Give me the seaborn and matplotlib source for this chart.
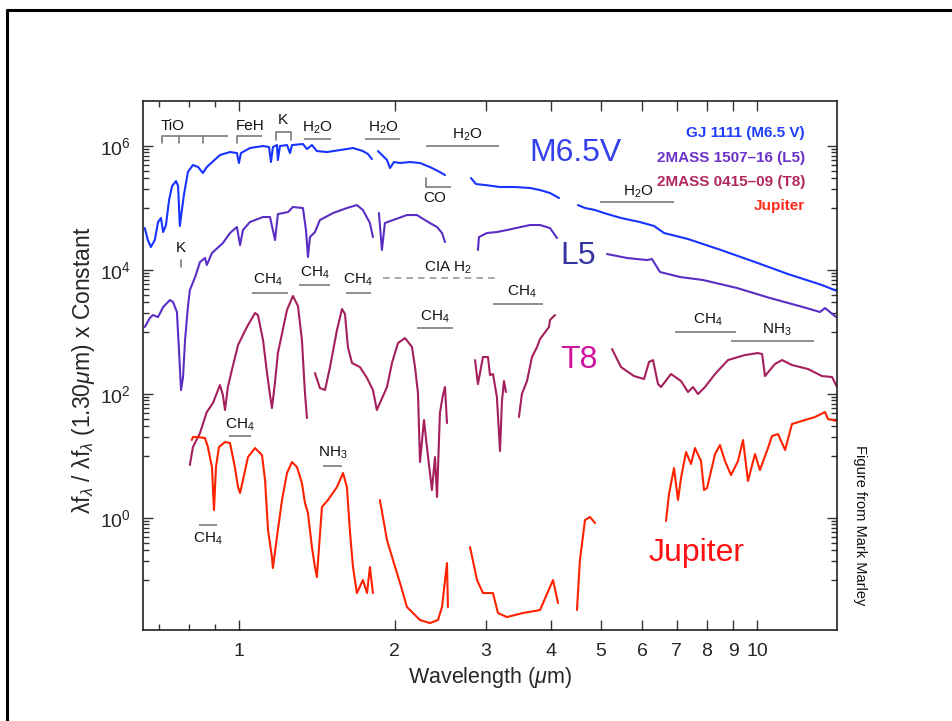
import numpy as np
import pandas as pd
import matplotlib
matplotlib.use("Agg")
import matplotlib.pyplot as plt
import seaborn as sns
from matplotlib.ticker import FixedLocator, NullFormatter, FuncFormatter
from matplotlib.lines import Line2D

nan = np.nan

# ---------------- data (wavelength in micron, log10 of normalised flux) ----------------
series_names = ["GJ 1111 (M6.5 V)", "2MASS 1507\u201316 (L5)", "2MASS 0415\u201309 (T8)", "Jupiter"]

wl_m65 = [0.658, 0.667, 0.676, 0.688, 0.698, 0.707, 0.714, 0.723, 0.733, 0.743,
          0.756, 0.763, 0.769, 0.776, 0.783, 0.797, 0.815, 0.834, 0.852, 0.867,
          0.919, 0.961, 0.991, 1.000, 1.009, 1.050, 1.113, 1.143, 1.153, 1.163,
          1.184, 1.189, 1.200, 1.238, 1.255, 1.266, 1.329, 1.353, 1.383, 1.414,
          1.479, 1.567, 1.660, 1.735, 1.774, 1.806, nan,
          1.855, 1.897, 1.931, 1.957, 1.992, 2.046, 2.139, 2.236, 2.337, 2.422, 2.499, nan,
          2.805, 2.868, 2.985, 3.191, 3.411, 3.647, 3.812, 3.985, 4.148, nan,
          4.512, 4.656, 4.868, 5.066, 5.464, 5.943, 6.328, 6.616, 7.359, 8.519,
          9.911, 11.48, 13.35, 14.27]
lf_m65 = [4.677, 4.484, 4.371, 4.484, 4.774, 4.839, 4.613, 4.726, 5.129, 5.355,
          5.435, 5.355, 4.710, 4.968, 5.210, 5.581, 5.694, 5.661, 5.565, 5.661,
          5.855, 5.903, 5.887, 5.726, 5.887, 5.968, 6.000, 5.984, 5.742, 5.984,
          6.016, 5.774, 6.000, 6.016, 5.887, 6.016, 6.032, 5.952, 6.016, 5.919,
          5.903, 5.935, 5.968, 5.919, 5.871, 5.790, nan,
          5.919, 5.839, 5.774, 5.645, 5.742, 5.726, 5.742, 5.726, 5.661, 5.597, 5.532, nan,
          5.484, 5.387, 5.371, 5.339, 5.339, 5.323, 5.290, 5.242, 5.161, nan,
          5.048, 5.000, 4.968, 4.919, 4.839, 4.774, 4.710, 4.597, 4.500, 4.323,
          4.129, 3.935, 3.758, 3.661]

wl_l5 = [0.658, 0.673, 0.682, 0.698, 0.714, 0.736, 0.746, 0.759, 0.766, 0.773,
         0.780, 0.787, 0.797, 0.804, 0.823, 0.841, 0.860, 0.867, 0.887, 0.931,
         0.961, 0.991, 1.005, 1.018, 1.050, 1.113, 1.148, 1.174, 1.189, 1.244,
         1.271, 1.329, 1.347, 1.359, 1.371, 1.402, 1.433, 1.519, 1.616, 1.689,
         1.735, 1.790, 1.814, nan,
         1.863, 1.888, 1.913, 1.983, 2.110, 2.206, 2.286, 2.337, 2.412, 2.466, 2.499, nan,
         2.893, 2.906, 3.010, 3.147, 3.290, 3.647, 3.812, 3.985, 4.111, nan,
         5.134, 5.611, 6.132, 6.270, 6.498, 7.103, 7.867, 9.150, 10.60, 12.27,
         13.23, 13.53, 14.21]
lf_l5 = [3.081, 3.226, 3.274, 3.242, 3.403, 3.516, 3.484, 3.323, 2.710, 2.065,
         2.274, 2.871, 3.403, 3.677, 3.887, 4.129, 4.194, 4.081, 4.274, 4.435,
         4.597, 4.694, 4.403, 4.645, 4.774, 4.855, 4.855, 4.484, 4.903, 4.935,
         5.016, 5.000, 4.645, 4.210, 4.532, 4.613, 4.806, 4.919, 5.000, 5.048,
         4.968, 4.758, 4.532, nan,
         4.919, 4.323, 4.758, 4.806, 4.887, 4.887, 4.806, 4.758, 4.694, 4.597, 4.452, nan,
         4.323, 4.532, 4.597, 4.613, 4.645, 4.726, 4.726, 4.677, 4.516, nan,
         4.258, 4.194, 4.161, 4.177, 3.968, 3.887, 3.839, 3.710, 3.548, 3.403,
         3.323, 3.387, 3.242]

wl_t8 = [0.804, 0.815, 0.841, 0.867, 0.891, 0.919, 0.931, 0.940, 0.952, 0.969,
         0.996, 1.036, 1.074, 1.088, 1.113, 1.133, 1.148, 1.158, 1.174, 1.189,
         1.238, 1.271, 1.300, 1.323, 1.341, 1.353, nan,
         1.402, 1.433, 1.466, 1.499, 1.546, 1.581, 1.602, 1.623, 1.653, 1.712,
         1.767, 1.814, 1.846, 1.871, 1.931, 1.974, 2.028, 2.092, 2.158, 2.187,
         2.216, 2.236, 2.276, 2.306, 2.358, 2.390, 2.412, 2.443, 2.476, 2.499,
         2.521, nan,
         2.856, 2.893, 2.958, 3.025, 3.052, 3.093, 3.147, 3.191, 3.219, 3.248, 3.276, nan,
         3.471, 3.517, 3.598, 3.678, 3.762, 3.812, 3.967, 3.985, 4.074, nan,
         5.250, 5.464, 5.788, 6.053, 6.188, 6.299, 6.441, 6.528, 6.823, 7.134,
         7.359, 7.523, 7.693, 7.936, 8.299, 8.790, 9.480, 10.04, 10.23, 10.36,
         10.83, 11.18, 11.68, 12.55, 13.35, 13.96, 14.27]
lf_t8 = [0.855, 1.145, 1.371, 1.710, 1.855, 2.145, 1.984, 1.742, 2.113, 2.387,
         2.790, 3.081, 3.306, 3.274, 2.871, 2.339, 1.984, 1.774, 2.194, 2.661,
         3.355, 3.581, 3.419, 2.871, 2.016, 1.613, nan,
         2.339, 2.097, 2.065, 2.435, 3.032, 3.371, 3.290, 2.758, 2.500, 2.435,
         2.258, 2.065, 1.742, 1.855, 2.113, 2.500, 2.823, 2.903, 2.758, 2.435,
         2.016, 0.903, 1.581, 1.145, 0.452, 0.984, 0.339, 1.694, 1.984, 2.113,
         1.532, nan,
         2.548, 2.161, 2.597, 2.597, 2.306, 2.323, 1.952, 1.081, 1.887, 2.210, 2.032, nan,
         1.629, 2.000, 2.210, 2.597, 2.758, 2.887, 3.081, 3.194, 3.274, nan,
         2.726, 2.435, 2.290, 2.242, 2.516, 2.548, 2.161, 2.113, 2.323, 2.210,
         2.032, 2.113, 2.000, 2.113, 2.323, 2.548, 2.629, 2.661, 2.645, 2.290,
         2.484, 2.548, 2.468, 2.403, 2.290, 2.274, 2.113]

wl_jup = [0.811, 0.815, 0.834, 0.860, 0.871, 0.887, 0.895, 0.903, 0.915, 0.940,
          0.961, 0.982, 0.996, 1.005, 1.018, 1.041, 1.074, 1.108, 1.123, 1.138,
          1.158, 1.163, 1.184, 1.211, 1.238, 1.266, 1.294, 1.323, 1.341, 1.359,
          1.383, 1.402, 1.414, 1.446, 1.485, 1.546, 1.588, 1.616, 1.637, 1.660,
          1.689, 1.735, 1.767, 1.790, 1.814, nan,
          1.871, 1.931, 1.983, 2.046, 2.110, 2.167, 2.236, 2.337, 2.422, 2.466, 2.521, 2.532, nan,
          2.793, 2.881, 2.958, 3.093, 3.162, 3.290, 3.534, 3.812, 4.039, 4.129, nan,
          4.492, 4.552, 4.656, 4.760, 4.868, nan,
          6.674, 6.763, 6.915, 7.039, 7.134, 7.295, 7.458, 7.591, 7.797, 7.902,
          8.008, 8.299, 8.482, 8.674, 8.909, 9.191, 9.397, 9.607, 9.911, 10.13,
          10.50, 10.69, 10.98, 11.33, 11.68, 12.38, 12.94, 13.53, 13.71, 14.27]
lf_jup = [1.258, 1.306, 1.306, 1.290, 1.145, 0.823, 0.129, 0.823, 1.145, 1.226,
          1.210, 0.823, 0.500, 0.403, 0.613, 0.984, 1.129, 1.016, 0.613, -0.194,
          -0.629, -0.806, -0.306, 0.290, 0.726, 0.903, 0.823, 0.565, 0.242, 0.081,
          -0.468, -0.790, -0.952, 0.177, 0.290, 0.500, 0.726, 0.500, -0.194, -0.790,
          -1.210, -1.000, -1.210, -0.790, -1.210, nan,
          0.290, -0.355, -0.677, -1.048, -1.435, -1.532, -1.645, -1.694, -1.645, -1.435, -0.726, -1.435, nan,
          -0.468, -1.000, -1.210, -1.210, -1.532, -1.597, -1.532, -1.484, -1.000, -1.371, nan,
          -1.484, -0.677, -0.032, 0.016, -0.081, nan,
          -0.048, 0.387, 0.806, 0.290, 0.645, 1.065, 0.871, 1.129, 0.919, 0.452,
          0.484, 1.032, 1.177, 0.919, 0.694, 0.919, 1.258, 0.597, 1.032, 0.774,
          1.129, 1.323, 1.355, 1.097, 1.516, 1.581, 1.629, 1.710, 1.597, 1.565]

line_colors = ["#1733ff", "#5a2ec4", "#a51f5c", "#ff2200"]
legend_colors = ["#1f3dff", "#6a32c6", "#b0285e", "#ff2a1a"]

# ---------------- build a tidy frame ----------------
rows = []
for name, wl, lf in zip(series_names, [wl_m65, wl_l5, wl_t8, wl_jup], [lf_m65, lf_l5, lf_t8, lf_jup]):
    seg = 0
    for w, f in zip(wl, lf):
        if np.isnan(w):
            seg += 1
            continue
        rows.append({"series": name, "unit": f"{name}-{seg}", "wl": w, "flux": 10.0 ** f})
df = pd.DataFrame(rows)

# ---------------- style ----------------
sns.set_style("ticks")
plt.rcParams["font.family"] = ["Liberation Sans", "DejaVu Sans"]
plt.rcParams["mathtext.fontset"] = "custom"
plt.rcParams["mathtext.rm"] = "Liberation Sans"
plt.rcParams["mathtext.it"] = "Liberation Sans:italic"
plt.rcParams["mathtext.bf"] = "Liberation Sans:bold"
NARROW = ["Liberation Sans", "DejaVu Sans"]

fig = plt.figure(figsize=(9.52, 7.21), dpi=100)
ax = fig.add_axes([0.1502, 0.1262, 0.729, 0.7337])
ax.set_xscale("log")
ax.set_yscale("log")

sns.lineplot(data=df, x="wl", y="flux", hue="series", units="unit", estimator=None,
             sort=False, palette=dict(zip(series_names, line_colors)), legend=False,
             lw=1.5, ax=ax)

ax.set_xlim(0.6528, 14.27)
ax.set_ylim(10 ** -1.806, 10 ** 6.726)

# ticks
ax.xaxis.set_major_locator(FixedLocator([1, 2, 3, 4, 5, 6, 7, 8, 9, 10]))
ax.xaxis.set_major_formatter(FuncFormatter(lambda v, p: f"{v:g}"))
ax.xaxis.set_minor_locator(FixedLocator([0.7, 0.8, 0.9]))
ax.xaxis.set_minor_formatter(NullFormatter())
ax.yaxis.set_major_locator(FixedLocator([1, 1e2, 1e4, 1e6]))
ax.yaxis.set_major_formatter(FuncFormatter(lambda v, p: r"$10^{%d}$" % round(np.log10(v))))
ax.yaxis.set_minor_locator(FixedLocator([k * 10.0 ** (n - 1) for n in (0, 2, 4, 6) for k in range(1, 10)]))
ax.yaxis.set_minor_formatter(NullFormatter())
ax.tick_params(which="both", direction="in", top=True, right=True, width=1, color="#333333")
ax.tick_params(which="major", length=7, labelsize=14, pad=9)
ax.tick_params(which="minor", length=4)
for s in ax.spines.values():
    s.set_linewidth(1.2)
    s.set_color("#222222")

ax.set_xlabel("Wavelength ($\\mathit{\u03bc}$m)", fontsize=15.5)
ax.xaxis.set_label_coords(0.5, -0.066)
ax.set_ylabel("\u03bbf$_{\u03bb}$ / \u03bbf$_{\u03bb}$ (1.30$\\mathit{\u03bc}$m) x Constant", fontsize=16.5)
ax.yaxis.set_label_coords(-0.066, 0.491)

# ---------------- band annotations ----------------
band_color = "#7a7a7a"
bands = [
    # text, text_wl, text_flux, wl0, wl1, line_flux, tick_wls, tick_end_flux
    ("TiO", 0.746, 2.1e6, 0.710, 0.952, 1.45e6, [0.710, 0.766, 0.852], 1.12e6),
    ("FeH", 1.050, 2.1e6, 0.991, 1.108, 1.45e6, [0.991], 1.12e6),
    ("K", 1.216, 2.6e6, 1.179, 1.260, 1.68e6, [1.179, 1.260], 1.25e6),
    ("H$_2$O", 1.414, 1.95e6, 1.335, 1.505, 1.30e6, [], None),
    ("H$_2$O", 1.897, 1.95e6, 1.751, 2.046, 1.30e6, [], None),
    ("H$_2$O", 2.755, 1.50e6, 2.296, 3.176, 1.0e6, [], None),
    ("CO", 2.39, 1.45e5, 2.296, 2.566, 2.18e5, [2.296], 3.05e5),
    ("H$_2$O", 5.891, 1.81e5, 4.977, 6.915, 1.25e5, [], None),
    ("CH$_4$", 1.138, 6.9e3, 1.0595, 1.2435, 4.26e3, [], None),
    ("CH$_4$", 1.402, 8.95e3, 1.306, 1.4985, 5.73e3, [], None),
    ("CH$_4$", 1.697, 6.9e3, 1.609, 1.798, 4.26e3, [], None),
    ("CH$_4$", 2.390, 1.75e3, 2.206, 2.589, 1.16e3, [], None),
    ("CH$_4$", 3.517, 4.42e3, 3.0925, 3.864, 2.83e3, [], None),
    ("CH$_4$", 8.043, 1.56e3, 6.946, 9.110, 1.0e3, [], None),
    ("NH$_3$", 10.93, 1.08e3, 8.909, 12.88, 716, [], None),
    ("CH$_4$", 1.0045, 31.6, 0.9565, 1.0548, 21.0, [], None),
    ("NH$_3$", 1.5185, 11.2, 1.4527, 1.5806, 6.9, [], None),
    ("CH$_4$", 0.871, 0.458, 0.837, 0.907, 0.771, [], None),
]
for txt, tx, ty, x0, x1, ly, tks, tend in bands:
    ax.plot([x0, x1], [ly, ly], color=band_color, lw=1.2, solid_capstyle="butt")
    for tk in tks:
        ax.plot([tk, tk], [ly, tend], color=band_color, lw=1.2)
    ax.text(tx, ty, txt, ha="center", va="center", fontsize=11, family=NARROW, color="#111111")

# potassium mark near 0.77 micron
ax.text(0.7727, 2.26e4, "K", ha="center", va="center", fontsize=11, family=NARROW, color="#111111")
ax.plot([0.7727, 0.7727], [1.45e4, 1.12e4], color=band_color, lw=1.2)
# CIA H2
ax.text(2.532, 1.08e4, "CIA H$_2$", ha="center", va="center", fontsize=11, family=NARROW, color="#111111")
ax.plot([1.897, 3.12], [7.43e3, 7.43e3], color="#9a9a9a", lw=1.2, ls=(0, (4, 3)))

# legend-like list of objects
leg_y = [0.9395, 0.892, 0.847, 0.8015]
for name, col, yy in zip(series_names, legend_colors, leg_y):
    ax.text(0.954, yy, name, transform=ax.transAxes, ha="right", va="center",
            fontsize=11, fontweight="bold", family=NARROW, color=col)

# big spectral-type labels
big = [("M6.5V", 0.6225, 0.9017, "#3340ee"),
       ("L5", 0.6268, 0.707, "#35359f"),
       ("T8", 0.628, 0.510, "#d014a0"),
       ("Jupiter", 0.798, 0.1456, "#ff1111")]
for txt, bx, by, col in big:
    ax.text(bx, by, txt, transform=ax.transAxes, ha="center", va="center", fontsize=23, color=col)

fig.text(860 / 952, 1 - 525 / 721, "Figure from Mark Marley", rotation=270,
         ha="center", va="center", fontsize=10.5, color="#111111")

# slide frame
fig.add_artist(Line2D([7 / 952, 7 / 952], [0, 1 - 10 / 721], transform=fig.transFigure, color="black", lw=2.2))
fig.add_artist(Line2D([7 / 952, 1], [1 - 10 / 721, 1 - 10 / 721], transform=fig.transFigure, color="black", lw=2.2))

fig.savefig("out.png", dpi=100)
